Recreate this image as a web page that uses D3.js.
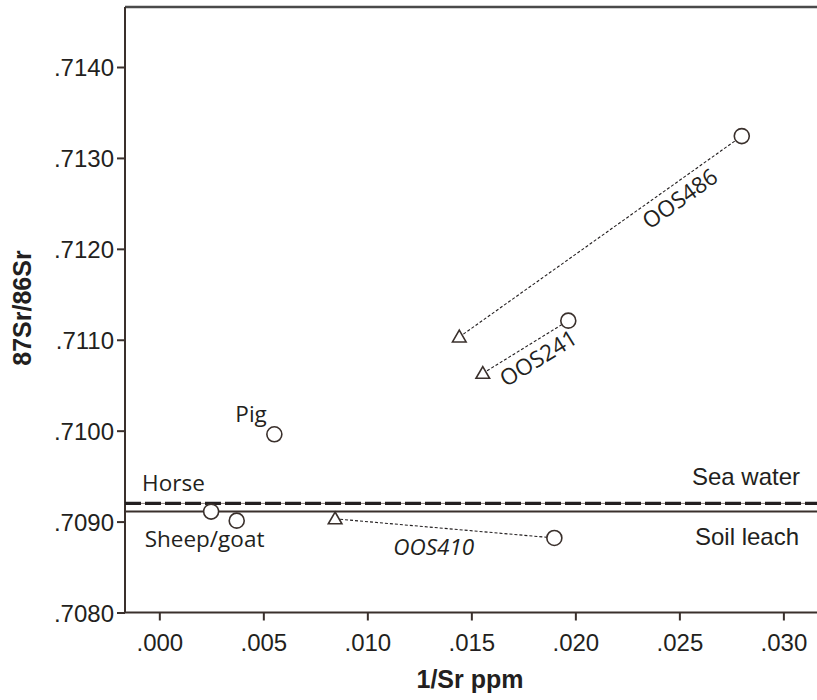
<!DOCTYPE html>
<html>
<head>
<meta charset="utf-8">
<script src="https://cdn.jsdelivr.net/npm/d3@7"></script>
<style>
  body { margin: 0; background: #fff; }
  svg text { fill: #231f20; }
</style>
</head>
<body>
<svg id="chart" width="817" height="700"></svg>
<script>
// tick values
const xTicks = [0, 0.005, 0.010, 0.015, 0.020, 0.025, 0.030];
const yTicks = [0.7080, 0.7090, 0.7100, 0.7110, 0.7120, 0.7130, 0.7140];

// single animal samples (circles)
const animals = ["Pig", "Horse", "Sheep/goat"];
const animalX = [0.00553, 0.00249, 0.00372];
const animalY = [0.70996, 0.70911, 0.70901];

// paired samples: triangle -> circle
const pairs = ["OOS486", "OOS241", "OOS410"];
const triX = [0.01442, 0.01555, 0.00845];
const triY = [0.71103, 0.71063, 0.70903];
const circX = [0.0280, 0.01966, 0.01899];
const circY = [0.71324, 0.71121, 0.70882];

// reference levels
const refNames = ["Sea water", "Soil leach"];
const refValues = [0.7092, 0.70911];

const W = 817, H = 700;
const svg = d3.select("#chart");

const x = d3.scaleLinear().domain([-0.00165, 0.03152]).range([125, 815]);
const y = d3.scaleLinear().domain([0.7080, 0.71466]).range([612.5, 7]);

const ink = "#3a302c";
const fmtX = d => d3.format(".3f")(d).replace(/^0/, "");
const fmtY = d => d3.format(".4f")(d).replace(/^0/, "");

// frame top
svg.append("line")
    .attr("x1", 125).attr("x2", W)
    .attr("y1", 7).attr("y2", 7)
    .attr("stroke", "#4a4a4a").attr("stroke-width", 2.5);

// axes
const xAxis = svg.append("g")
    .attr("transform", `translate(0,${y(0.7080)})`)
    .call(d3.axisBottom(x).tickValues(xTicks).tickFormat(fmtX).tickSize(8).tickSizeOuter(0));
xAxis.select(".domain").attr("d", `M125,0H${W}`);

const yAxis = svg.append("g")
    .attr("transform", `translate(${x.range()[0]},0)`)
    .call(d3.axisLeft(y).tickValues(yTicks).tickFormat(fmtY).tickSize(8).tickSizeOuter(0));
yAxis.select(".domain").attr("d", `M0,7V${y(0.7080)}`);

[xAxis, yAxis].forEach(a => {
    a.selectAll(".domain").attr("stroke", ink).attr("stroke-width", 2);
    a.selectAll(".tick line").attr("stroke", ink).attr("stroke-width", 2);
    a.selectAll(".tick text")
        .attr("font-family", "Liberation Sans, Arial, sans-serif")
        .attr("font-size", 24)
        .attr("fill", "#231f20");
});
xAxis.selectAll(".tick text").attr("dy", "1.15em");
yAxis.selectAll(".tick text").attr("x", -11).attr("dy", "0.36em");

// axis titles
svg.append("text")
    .attr("x", 470).attr("y", 688)
    .attr("text-anchor", "middle")
    .attr("font-family", "Liberation Sans, Arial, sans-serif")
    .attr("font-weight", "bold").attr("font-size", 25)
    .text("1/Sr ppm");

svg.append("text")
    .attr("transform", "translate(31,308) rotate(-90)")
    .attr("text-anchor", "middle")
    .attr("font-family", "Liberation Sans, Arial, sans-serif")
    .attr("font-weight", "bold").attr("font-size", 25)
    .text("87Sr/86Sr");

// reference lines
svg.append("line")
    .attr("x1", 125).attr("x2", W)
    .attr("y1", y(refValues[0])).attr("y2", y(refValues[0]))
    .attr("stroke", "#8a7f7b").attr("stroke-width", 1);
svg.append("line")
    .attr("x1", 125).attr("x2", W)
    .attr("y1", y(refValues[0])).attr("y2", y(refValues[0]))
    .attr("stroke", "#231f20").attr("stroke-width", 3.2)
    .attr("stroke-dasharray", "16,4");
svg.append("line")
    .attr("x1", 125).attr("x2", W)
    .attr("y1", y(refValues[1])).attr("y2", y(refValues[1]))
    .attr("stroke", ink).attr("stroke-width", 2);

const refLabel = svg.append("g")
    .attr("font-family", "Liberation Sans, Arial, sans-serif")
    .attr("font-size", 24);
refLabel.append("text").attr("x", 800).attr("y", y(refValues[0]) - 18)
    .attr("text-anchor", "end").text(refNames[0]);
refLabel.append("text").attr("x", 799).attr("y", y(refValues[1]) + 33)
    .attr("text-anchor", "end").text(refNames[1]);

// connecting lines of pairs
svg.append("g").selectAll("line")
    .data(pairs)
    .join("line")
    .attr("x1", (d, i) => x(triX[i]))
    .attr("y1", (d, i) => y(triY[i]))
    .attr("x2", (d, i) => x(circX[i]))
    .attr("y2", (d, i) => y(circY[i]))
    .attr("stroke", "#231f20").attr("stroke-width", 1.1)
    .attr("stroke-dasharray", "3,2");

// triangles
const tri = d3.symbol().type(d3.symbolTriangle).size(80);
svg.append("g").selectAll("path")
    .data(pairs)
    .join("path")
    .attr("d", tri)
    .attr("transform", (d, i) => `translate(${x(triX[i])},${y(triY[i]) + 1})`)
    .attr("fill", "#fff").attr("stroke", ink).attr("stroke-width", 1.6);

// circles: pair ends and animals
const cx = circX.concat(animalX);
const cy = circY.concat(animalY);
svg.append("g").selectAll("circle")
    .data(cx)
    .join("circle")
    .attr("cx", d => x(d))
    .attr("cy", (d, i) => y(cy[i]))
    .attr("r", 7.5)
    .attr("fill", "#fff").attr("stroke", ink).attr("stroke-width", 1.6);

// point labels
const lab = svg.append("g")
    .attr("font-family", "Open Sans, Noto Sans, sans-serif")
    .attr("font-size", 22.5);

// animal labels, placed relative to their points
const animalOffset = [[-39, -12], [-69, -21], [-92, 26]];
lab.selectAll("text.animal")
    .data(animals)
    .join("text")
    .attr("class", "animal")
    .attr("x", (d, i) => x(animalX[i]) + animalOffset[i][0])
    .attr("y", (d, i) => y(animalY[i]) + animalOffset[i][1])
    .text(d => d);

// pair labels along their connectors (t = fraction along line, off = offset below it)
const pairLabelAt = [0.75, 0.55, 0.45];
const pairShift = [15, 16, 19];
pairs.forEach((name, i) => {
    const x0 = x(triX[i]), y0 = y(triY[i]), x1 = x(circX[i]), y1 = y(circY[i]);
    const t = pairLabelAt[i];
    const px = x0 + (x1 - x0) * t, py = y0 + (y1 - y0) * t;
    const ang = Math.atan2(y1 - y0, x1 - x0) * 180 / Math.PI;
    const rot = i === 2 ? 0 : ang;
    lab.append("text")
        .attr("transform", `translate(${px},${py}) rotate(${rot})`)
        .attr("text-anchor", "middle")
        .attr("y", pairShift[i])
        .attr("dy", "0.36em")
        .attr("font-style", i === 2 ? "italic" : "normal")
        .text(name);
});
</script>
</body>
</html>
